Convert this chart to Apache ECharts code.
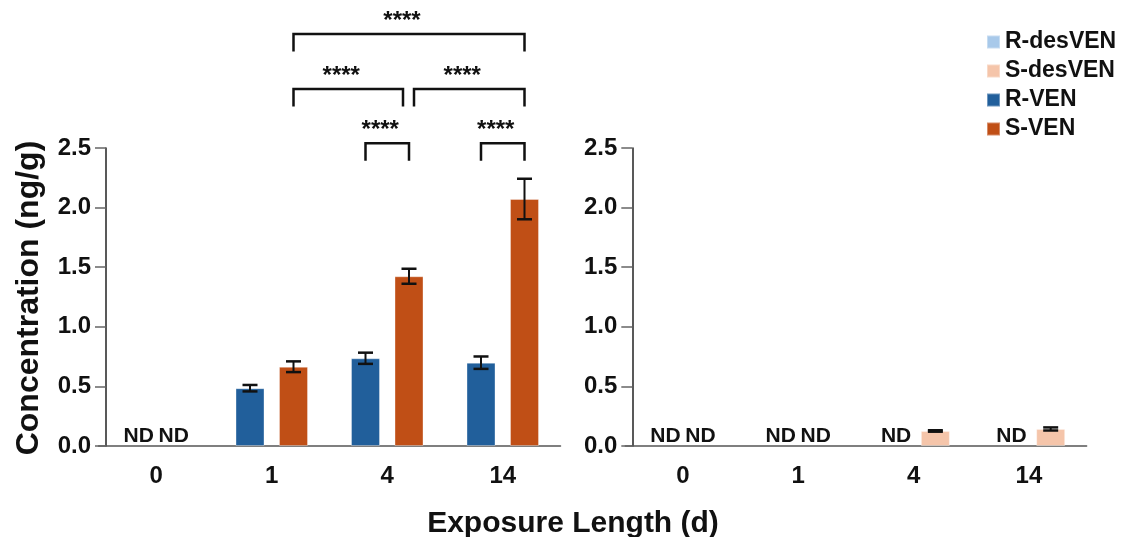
<!DOCTYPE html>
<html>
<head>
<meta charset="utf-8">
<script src="https://cdn.jsdelivr.net/npm/echarts@6/dist/echarts.min.js"></script>
<style>
  html, body { margin: 0; padding: 0; background: #fff; }
  #chart { width: 1121px; height: 537px; }
</style>
</head>
<body>
<div id="chart"></div>
<script>
// Exposure days (category axis for both panels)
const days = ['0', '1', '4', '14'];

// Venetoclax enantiomers, mean concentration (ng/g) and error; null = not detected (ND)
const rVen      = [null, 0.485, 0.736, 0.699];
const rVenErr   = [null, 0.027, 0.047, 0.052];
const sVen      = [null, 0.665, 1.424, 2.072];
const sVenErr   = [null, 0.045, 0.063, 0.170];

// Desmethyl-venetoclax enantiomers
const rDesVen    = [null, null, null, null];
const rDesVenErr = [null, null, null, null];
const sDesVen    = [null, null, 0.126, 0.143];
const sDesVenErr = [null, null, 0.006, 0.013];

// Y axis range and step
const yMin = 0, yMax = 2.5, yStep = 0.5;

// Pairwise comparisons for the left panel: [day index, side] pairs, bracket height (ng/g), label
// side: -1 = R bar, +1 = S bar
const comparisons = [
  { a: [2, -1], b: [2, 1], level: 2.54, label: '****' },
  { a: [3, -1], b: [3, 1], level: 2.54, label: '****' },
  { a: [1, 1], b: [2, 1], level: 2.995, label: '****', trimB: -6 },
  { a: [2, 1], b: [3, 1], level: 2.995, label: '****', trimA: 5 },
  { a: [1, 1], b: [3, 1], level: 3.456, label: '****' }
];

const legendNames = ['R-desVEN', 'S-desVEN', 'R-VEN', 'S-VEN'];
const colors = {
  'R-desVEN': '#a8c9ea',
  'S-desVEN': '#f5c5aa',
  'R-VEN': '#215f9b',
  'S-VEN': '#c04f16'
};

const FONT = '"Liberation Sans", Arial, Helvetica, sans-serif';
const BAR_W = 29;
const BAR_GAP = 0.5;
const BAR_OFF = BAR_W * (1 + BAR_GAP) / 2;
const ND_OFF = 17.5;

function barSeries(name, idx, values) {
  return {
    type: 'bar',
    name: name,
    xAxisIndex: idx,
    yAxisIndex: idx,
    barWidth: BAR_W,
    barGap: (BAR_GAP * 100) + '%',
    data: values,
    itemStyle: { color: colors[name], borderColor: 'rgba(255,255,255,0.35)', borderWidth: 1 },
    silent: true
  };
}

// Error bars and ND markers drawn on top of the bars
function errorSeries(idx, side, means, errs) {
  return {
    type: 'custom',
    xAxisIndex: idx,
    yAxisIndex: idx,
    z: 5,
    silent: true,
    clip: false,
    data: means.map((m, i) => m == null ? [i, 0, 0, 1] : [i, m, errs[i], 0]),
    renderItem(params, api) {
      const i = api.value(0), m = api.value(1), e = api.value(2), nd = api.value(3);
      const base = api.coord([i, 0]);
      if (nd) {
        return {
          type: 'text',
          style: {
            text: 'ND', x: base[0] + side * ND_OFF, y: base[1] - 10,
            align: 'center', verticalAlign: 'middle',
            font: 'bold 21px ' + FONT, fill: '#111'
          }
        };
      }
      const x = base[0] + side * BAR_OFF;
      const top = api.coord([i, m + e])[1];
      const bot = api.coord([i, m - e])[1];
      const cap = 7.5;
      return {
        type: 'group',
        children: [
          { type: 'line', shape: { x1: x, y1: top, x2: x, y2: bot }, style: { stroke: '#111', lineWidth: 2 } },
          { type: 'line', shape: { x1: x - cap, y1: top, x2: x + cap, y2: top }, style: { stroke: '#111', lineWidth: 2.5 } },
          { type: 'line', shape: { x1: x - cap, y1: bot, x2: x + cap, y2: bot }, style: { stroke: '#111', lineWidth: 2.5 } }
        ]
      };
    }
  };
}

// Significance brackets above the left panel
const bracketSeries = {
  type: 'custom',
  xAxisIndex: 0,
  yAxisIndex: 0,
  z: 6,
  silent: true,
  clip: false,
  data: comparisons.map(c => [c.a[0], c.level, c.b[0]]),
  renderItem(params, api) {
    const c = comparisons[params.dataIndex];
    const pa = api.coord([c.a[0], c.level]);
    const pb = api.coord([c.b[0], c.level]);
    const x1 = pa[0] + c.a[1] * BAR_OFF + (c.trimA || 0);
    const x2 = pb[0] + c.b[1] * BAR_OFF + (c.trimB || 0);
    const y = pa[1];
    const leg = 17.5;
    return {
      type: 'group',
      children: [
        {
          type: 'polyline',
          shape: { points: [[x1, y + leg], [x1, y], [x2, y], [x2, y + leg]] },
          style: { stroke: '#111', lineWidth: 2.5, fill: null }
        },
        {
          type: 'text',
          style: {
            text: c.label, x: (x1 + x2) / 2 - 7, y: y - 13,
            align: 'center', verticalAlign: 'middle',
            font: 'bold 24px ' + FONT, fill: '#111'
          }
        }
      ]
    };
  }
};

function xAxisCfg(idx) {
  return {
    type: 'category',
    gridIndex: idx,
    data: days,
    axisLine: { lineStyle: { color: '#555', width: 1.5 } },
    axisTick: { alignWithLabel: true, length: 10, lineStyle: { color: '#666', width: 1.5 } },
    axisLabel: { fontFamily: FONT, fontWeight: 'bold', fontSize: 24, color: '#111', margin: 18 },
    splitLine: { show: false }
  };
}

function yAxisCfg(idx, offset) {
  return {
    type: 'value',
    gridIndex: idx,
    min: yMin,
    max: yMax,
    interval: yStep,
    offset: offset,
    axisLine: { show: true, lineStyle: { color: '#222', width: 1.5 } },
    axisTick: { show: true, length: 11, lineStyle: { color: '#666', width: 1.5 } },
    axisLabel: {
      fontFamily: FONT, fontWeight: 'bold', fontSize: 24, color: '#111', margin: 15,
      formatter: v => v.toFixed(1)
    },
    splitLine: { show: false }
  };
}

const chart = echarts.init(document.getElementById('chart'), null, { renderer: 'canvas' });

chart.setOption({
  backgroundColor: '#ffffff',
  animation: false,
  grid: [
    { left: 98.5, top: 148, width: 462, height: 298 },
    { left: 625.3, top: 148, width: 461.3, height: 298 }
  ],
  xAxis: [xAxisCfg(0), xAxisCfg(1)],
  yAxis: [yAxisCfg(0, -7.5), yAxisCfg(1, -7)],
  legend: {
    data: legendNames,
    orient: 'vertical',
    left: 986,
    top: 30.5,
    padding: 0,
    icon: 'rect',
    itemWidth: 13,
    itemHeight: 13,
    itemGap: 6,
    selectedMode: false,
    textStyle: { fontFamily: FONT, fontWeight: 'bold', fontSize: 23, color: '#111' }
  },
  graphic: [
    {
      type: 'text',
      x: 573, y: 523.5,
      style: {
        text: 'Exposure Length (d)', align: 'center', verticalAlign: 'middle',
        font: 'bold 30px ' + FONT, fill: '#111'
      }
    },
    {
      type: 'text',
      x: 29, y: 298,
      rotation: Math.PI / 2,
      style: {
        text: 'Concentration (ng/g)', align: 'center', verticalAlign: 'middle',
        font: 'bold 32px ' + FONT, fill: '#111'
      }
    }
  ],
  series: [
    barSeries('R-VEN', 0, rVen),
    barSeries('S-VEN', 0, sVen),
    barSeries('R-desVEN', 1, rDesVen),
    barSeries('S-desVEN', 1, sDesVen),
    errorSeries(0, -1, rVen, rVenErr),
    errorSeries(0, 1, sVen, sVenErr),
    errorSeries(1, -1, rDesVen, rDesVenErr),
    errorSeries(1, 1, sDesVen, sDesVenErr),
    bracketSeries
  ]
});
</script>
</body>
</html>
